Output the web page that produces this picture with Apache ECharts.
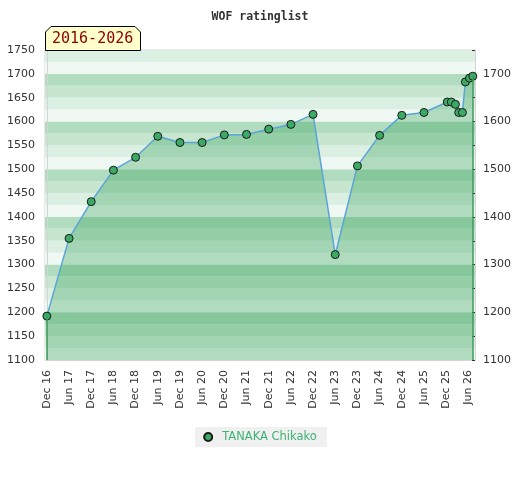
<!DOCTYPE html>
<html>
<head>
  <meta http-equiv="Content-Type" content="text/html; charset=utf-8"/>
  <title>WOF ratinglist</title>
  <script src="https://cdn.jsdelivr.net/npm/echarts@6.0.0/dist/echarts.min.js"></script>
</head>
<body style="margin:0px" onload="plot()">

<div id="chart" style="width:520px;height:480px;"></div>

<script type="text/javascript">
// months counted from Dec 2016
var months=[0,6,12,18,24,30,36,42,48,54,60,66,72,78,84,90,96,102,108.3,109.4,110.5,111.4,112.4,113.2,114.3,115.2];
var ratings=[1192,1355,1432,1498,1525,1569,1556,1556,1572,1573,1584,1594,1615,1321,1507,1571,1613,1619,1641,1641,1636,1619,1619,1683,1691,1695];
var tickMonths=[0,6,12,18,24,30,36,42,48,54,60,66,72,78,84,90,96,102,108,114];
var tickLabels=["Dec 16","Jun 17","Dec 17","Jun 18","Dec 18","Jun 19","Dec 19","Jun 20","Dec 20","Jun 21",
                "Dec 21","Jun 22","Dec 22","Jun 23","Dec 23","Jun 24","Dec 24","Jun 25","Dec 25","Jun 26"];
var playerName="TANAKA Chikako";
var periodText="2016-2026";
var yMin=1100, yMax=1750;

function plot(){
  var chart=echarts.init(document.getElementById('chart'));
  var points=[];
  for(var i=0;i<months.length;i++){
    points.push([months[i],ratings[i]]);
  }
  var last=months.length-1;

  var option={
    animation:false,
    backgroundColor:'#ffffff',
    title:{
      text:'WOF ratinglist',
      left:'center',
      top:6,
      textStyle:{fontFamily:'DejaVu Sans Mono',fontSize:11.5,fontWeight:'bold',color:'#333333'}
    },
    grid:{left:45,right:45,top:50,bottom:120,show:true,borderColor:'#d4d4d4',borderWidth:1},
    legend:{
      bottom:33,
      left:'center',
      backgroundColor:'#f0f0f0',
      padding:[4,10,4,8],
      itemWidth:8,
      itemHeight:8,
      icon:'circle',
      textStyle:{color:'#3cb371',fontFamily:'DejaVu Sans',fontSize:11.5,padding:[0,0,0,5]},
      data:[playerName]
    },
    xAxis:{
      type:'value',
      min:-0.5,
      max:115.8,
      axisLine:{show:true,lineStyle:{color:'#d4d4d4'}},
      axisTick:{show:false},
      splitLine:{show:false},
      axisLabel:{
        rotate:90,
        margin:10,
        color:'#333333',
        fontFamily:'DejaVu Sans',
        fontSize:11,
        customValues:tickMonths,
        formatter:function(v){
          var k=tickMonths.indexOf(Math.round(v));
          return k>=0?tickLabels[k]:'';
        }
      }
    },
    yAxis:[
      {
        type:'value',min:yMin,max:yMax,interval:50,position:'left',
        axisLine:{show:true,lineStyle:{color:'#d4d4d4'}},
        axisTick:{show:false},
        splitLine:{show:false},
        axisLabel:{margin:10,color:'#333333',fontFamily:'DejaVu Sans',fontSize:11,
          formatter:function(v){ return String(v); }}
      },
      {
        type:'value',min:yMin,max:yMax,interval:50,position:'right',
        axisLine:{show:true,lineStyle:{color:'#d4d4d4'}},
        axisTick:{show:true,inside:true,length:3,lineStyle:{color:'#333333'}},
        splitLine:{show:false},
        axisLabel:{margin:8,color:'#333333',fontFamily:'DejaVu Sans',fontSize:11,
          formatter:function(v){ return v%100==0?String(v):''; }}
      },
      {
        // background bands
        type:'value',min:yMin,max:yMax,interval:25,position:'left',
        axisLine:{show:false},axisTick:{show:false},axisLabel:{show:false},
        splitLine:{show:false},
        splitArea:{show:true,areaStyle:{color:['#f0f8f3','#dcefe3','#c6e6d0','#b2dcc0']}}
      }
    ],
    graphic:[
      {
        type:'polygon',
        z:100,
        shape:{points:[[45.5,50.5],[45.5,32],[51,26.5],[135,26.5],[140.5,32],[140.5,50.5]]},
        style:{fill:'#ffffcc',stroke:'#000000',lineWidth:1}
      },
      {
        type:'text',
        z:101,
        left:52,
        top:32,
        style:{text:periodText,fill:'#8b0000',font:'15px "DejaVu Sans Mono"'}
      }
    ],
    series:[
      {
        name:playerName,
        type:'line',
        yAxisIndex:0,
        data:points,
        symbol:'circle',
        symbolSize:8,
        itemStyle:{color:'#3aaa64',borderColor:'#1a1a1a',borderWidth:1},
        lineStyle:{color:'#5ba3d9',width:1.5},
        areaStyle:{color:'rgba(44,160,80,0.46)',origin:'start'},
        markLine:{
          silent:true,
          symbol:'none',
          label:{show:false},
          lineStyle:{color:'#3a9a5a',width:1.5,type:'solid'},
          data:[
            [{coord:[months[0],ratings[0]]},{coord:[months[0],yMin]}],
            [{coord:[months[last],ratings[last]]},{coord:[months[last],yMin]}]
          ]
        }
      }
    ]
  };
  chart.setOption(option);
}
</script>

</body>
</html>
